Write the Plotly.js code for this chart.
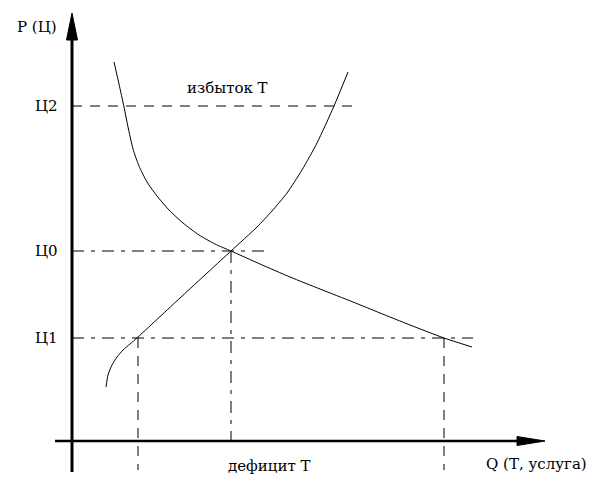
<!DOCTYPE html>
<html>
<head>
<meta charset="utf-8">
<script src="https://cdn.plot.ly/plotly-3.0.1.min.js"></script>
<style>html,body{margin:0;padding:0;background:#fff;}#chart{width:607px;height:490px;}</style>
</head>
<body>
<div id="chart"></div>
<script>
// Supply curve (Q, P)  — origin at the axes crossing
const supplyQ = [34, 36, 40, 45, 51, 58, 66, 108, 159, 185, 200, 215, 230, 245, 262, 276];
const supplyP = [54, 66, 76, 84, 91, 97, 104, 143, 190, 214, 230, 248, 271, 298, 335, 369];
// Demand curve (Q, P)
const demandQ = [42, 47, 52, 56, 61, 67, 75, 85, 97, 111, 127, 143, 159, 188, 218, 248, 281, 308, 338, 372, 400];
const demandP = [379, 357, 334, 314, 292, 275, 259, 245, 231, 218, 206, 197, 190, 177, 164, 152, 139, 128, 116, 103, 94];
// Price levels and corresponding quantities
const priceLabels = ["Ц1", "Ц0", "Ц2"];
const priceValues = [103, 190, 335];
const qAtP1 = [66, 372];
const qAtP0 = 159;
const lineEnds = {"Ц1": 401, "Ц0": 193, "Ц2": 286};
const axisLabels = {p: "P (Ц)", q: "Q (Т, услуга)"};
const regionLabels = {surplus: "избыток Т", deficit: "дефицит Т"};

const font = {family: "DejaVu Serif", size: 15, color: "#000"};

const traces = [
  {x: supplyQ, y: supplyP, mode: "lines", line: {color: "#000", width: 1, shape: "spline", smoothing: 0.6}, hoverinfo: "skip"},
  {x: demandQ, y: demandP, mode: "lines", line: {color: "#000", width: 1, shape: "spline", smoothing: 0.6}, hoverinfo: "skip"}
];

const shapes = [];
priceLabels.forEach((lab, i) => {
  shapes.push({type: "line", xref: "x", yref: "y", x0: 0, x1: lineEnds[lab], y0: priceValues[i], y1: priceValues[i],
    line: {color: "#000", width: 1, dash: lab === "Ц2" ? "10px,8px" : "12px,7px,4px,7px"}});
});
qAtP1.forEach(q => {
  shapes.push({type: "line", xref: "x", yref: "y", x0: q, x1: q, y0: priceValues[0], y1: -29,
    line: {color: "#000", width: 1, dash: "10px,8px"}});
});
shapes.push({type: "line", xref: "x", yref: "y", x0: qAtP0, x1: qAtP0, y0: priceValues[1], y1: 0,
  line: {color: "#000", width: 1, dash: "12px,7px,4px,7px"}});
// axes with arrow heads
shapes.push({type: "line", xref: "x", yref: "y", x0: 0, x1: 0, y0: -31, y1: 405, line: {color: "#000", width: 3}});
shapes.push({type: "line", xref: "x", yref: "y", x0: -17, x1: 450, y0: 0, y1: 0, line: {color: "#000", width: 2.5}});
shapes.push({type: "path", xref: "x", yref: "y", path: "M 0,428 L -5.5,401 L 5.5,401 Z", fillcolor: "#000", line: {color: "#000", width: 1}});
shapes.push({type: "path", xref: "x", yref: "y", path: "M 473,0 L 445,4.5 L 445,-4.5 Z", fillcolor: "#000", line: {color: "#000", width: 1}});

const annotations = [];
priceLabels.forEach((lab, i) => {
  annotations.push({x: -12, y: priceValues[i], xref: "x", yref: "y", text: lab, showarrow: false, xanchor: "right", yanchor: "middle", font: font});
});
annotations.push({x: -35, y: 414, xref: "x", yref: "y", text: axisLabels.p, showarrow: false, xanchor: "center", yanchor: "middle", font: font});
annotations.push({x: 464, y: -23, xref: "x", yref: "y", text: axisLabels.q, showarrow: false, xanchor: "center", yanchor: "middle", font: font});
annotations.push({x: 155, y: 353, xref: "x", yref: "y", text: regionLabels.surplus, showarrow: false, xanchor: "center", yanchor: "middle", font: font});
annotations.push({x: 197, y: -25, xref: "x", yref: "y", text: regionLabels.deficit, showarrow: false, xanchor: "center", yanchor: "middle", font: font});

const layout = {
  width: 607, height: 490,
  margin: {l: 0, r: 0, t: 0, b: 0, pad: 0},
  paper_bgcolor: "#fff", plot_bgcolor: "#fff",
  showlegend: false,
  font: font,
  xaxis: {range: [-72, 535], visible: false, fixedrange: true},
  yaxis: {range: [-49, 441], visible: false, fixedrange: true},
  shapes: shapes,
  annotations: annotations
};

Plotly.newPlot("chart", traces, layout, {staticPlot: true, displayModeBar: false});
</script>
</body>
</html>
